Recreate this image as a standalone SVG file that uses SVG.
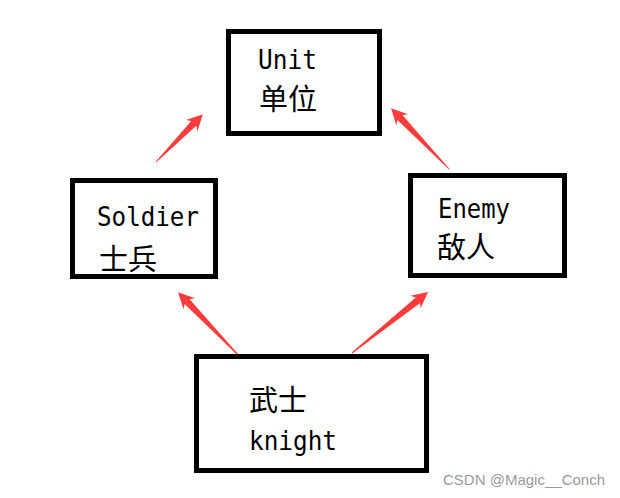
<svg xmlns="http://www.w3.org/2000/svg" width="620" height="498" viewBox="0 0 620 498">
<style>
.box{fill:#fff;stroke:#000;stroke-width:5}
.lat{font-family:"DejaVu Sans Mono","Liberation Mono",monospace;font-size:27px;fill:#000}
.cjk{font-family:"Noto Sans CJK SC","Noto Sans CJK JP",sans-serif;font-size:29px;fill:#000}
.arrow{fill:#FF3B3B;stroke:none}
.wm{font-family:"Liberation Sans","Noto Sans",sans-serif;font-size:15px;fill:#9a9a9a}
</style>
<rect width="620" height="498" fill="#fff"/>
<g id="connectors">
<path class="arrow" transform="translate(156,162) rotate(-45.6)" d="M0,-0.5 L54,-3.5 L51,-8 L67,0 L51,8 L54,3.5 L0,0.5 Z"/>
<path class="arrow" transform="translate(449,169) rotate(-133.6)" d="M0,-0.5 L71,-3.5 L68,-8 L84,0 L68,8 L71,3.5 L0,0.5 Z"/>
<path class="arrow" transform="translate(241,358) rotate(-133.7)" d="M0,-0.5 L78,-3.5 L75,-8 L91,0 L75,8 L78,3.5 L0,0.5 Z"/>
<path class="arrow" transform="translate(352,353) rotate(-38.7)" d="M0,-0.5 L84.5,-3.5 L81.5,-8 L97.5,0 L81.5,8 L84.5,3.5 L0,0.5 Z"/>
</g>
<g id="unit">
<rect class="box" x="228.5" y="31.5" width="151" height="102"/>
<text class="lat" x="258" y="69" textLength="59" lengthAdjust="spacingAndGlyphs">Unit</text>
<text class="cjk" x="259" y="110">单位</text>
</g>
<g id="soldier">
<rect class="box" x="72.5" y="180.5" width="143" height="96"/>
<text class="lat" x="97" y="226" textLength="102" lengthAdjust="spacingAndGlyphs">Soldier</text>
<text class="cjk" x="99" y="270">士兵</text>
</g>
<g id="enemy">
<rect class="box" x="410.5" y="175.5" width="154" height="100"/>
<text class="lat" x="438" y="218" textLength="72" lengthAdjust="spacingAndGlyphs">Enemy</text>
<text class="cjk" x="437" y="258">敌人</text>
</g>
<g id="knight">
<rect class="box" x="196.5" y="356.5" width="230" height="114"/>
<text class="cjk" x="249" y="411">武士</text>
<text class="lat" x="249" y="450" textLength="88" lengthAdjust="spacingAndGlyphs">knight</text>
</g>
<text class="wm" x="443" y="485" textLength="162" lengthAdjust="spacingAndGlyphs">CSDN @Magic__Conch</text>
</svg>
